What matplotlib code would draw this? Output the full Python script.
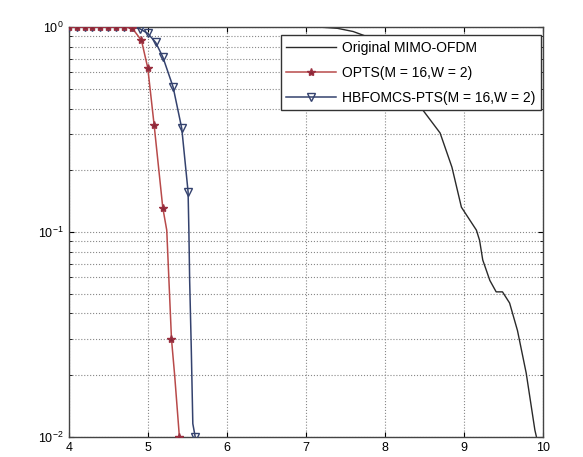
import numpy as np
import matplotlib.pyplot as plt

plt.rcParams['font.family'] = ['Liberation Sans', 'DejaVu Sans']

# Original MIMO-OFDM
x_orig = [4.0, 5.0, 6.0, 7.0, 7.2, 7.4, 7.6, 7.8, 8.0, 8.2, 8.4, 8.48, 8.70, 8.85, 8.97,
          9.16, 9.20, 9.24, 9.33, 9.41, 9.49, 9.58, 9.68, 9.79, 9.90, 9.92]
y_orig = [1.0, 1.0, 1.0, 1.0, 0.997, 0.985, 0.95, 0.89, 0.80, 0.66, 0.47, 0.394, 0.304, 0.207, 0.132,
          0.102, 0.091, 0.073, 0.058, 0.051, 0.051, 0.045, 0.033, 0.0205, 0.0108, 0.01]

# OPTS(M = 16, W = 2)
x_opts = [4.0, 4.1, 4.2, 4.3, 4.4, 4.5, 4.6, 4.7, 4.8, 4.92, 5.0, 5.08, 5.19, 5.24, 5.30, 5.34, 5.40]
y_opts = [1.0, 1.0, 1.0, 1.0, 1.0, 1.0, 1.0, 1.0, 0.99, 0.86, 0.63, 0.333, 0.131, 0.102, 0.030, 0.020, 0.01]
mk_opts = [0, 1, 2, 3, 4, 5, 6, 7, 8, 9, 10, 11, 12, 14, 16]

# HBFOMCS-PTS(M = 16, W = 2)
x_hb = [4.0, 4.1, 4.2, 4.3, 4.4, 4.5, 4.6, 4.7, 4.8, 4.9, 5.0, 5.1, 5.19, 5.32, 5.43, 5.51,
        5.52, 5.53, 5.55, 5.57, 5.60]
y_hb = [1.0, 1.0, 1.0, 1.0, 1.0, 1.0, 1.0, 1.0, 1.0, 0.98, 0.93, 0.84, 0.714, 0.51, 0.32, 0.157,
        0.102, 0.058, 0.0275, 0.0116, 0.01]
mk_hb = [0, 1, 2, 3, 4, 5, 6, 7, 8, 9, 10, 11, 12, 13, 14, 15, 20]

labels = ['Original MIMO-OFDM', 'OPTS(M = 16,W = 2)', 'HBFOMCS-PTS(M = 16,W = 2)']

c_orig = '#2a2a2a'
c_opts = '#b84a4a'
c_hb = '#34426e'

fig = plt.figure(figsize=(5.83, 4.57), dpi=100)
ax = fig.add_axes([0.118, 0.044, 0.813, 0.897])

ax.semilogy(x_orig, y_orig, color=c_orig, lw=1.0)
ax.semilogy(x_hb, y_hb, color=c_hb, lw=1.1, marker='v', markersize=6,
            markerfacecolor='none', markeredgecolor=c_hb, markevery=mk_hb, zorder=3)
ax.semilogy(x_opts, y_opts, color=c_opts, lw=1.1, marker='*', markersize=6,
            markerfacecolor='#8a2838', markeredgecolor='#9a3040', markevery=mk_opts, zorder=4)

# legend handles in original order
h0, = ax.plot([], [], color=c_orig, lw=1.0)
h1, = ax.plot([], [], color=c_opts, lw=1.1, marker='*', markersize=6,
              markerfacecolor='#8a2838', markeredgecolor='#9a3040')
h2, = ax.plot([], [], color=c_hb, lw=1.1, marker='v', markersize=6,
              markerfacecolor='none', markeredgecolor=c_hb)
leg = ax.legend([h0, h1, h2], labels, loc='upper right', bbox_to_anchor=(0.996, 0.98),
                borderaxespad=0, fontsize=10, fancybox=False, framealpha=1,
                edgecolor='#333333', handlelength=3.6, labelspacing=0.8, handletextpad=0.4)
leg.get_frame().set_linewidth(1.0)

ax.set_xlim(4, 10)
ax.set_ylim(1e-2, 1)
ax.set_xticks([4, 5, 6, 7, 8, 9, 10])
ax.grid(True, which='major', linestyle=':', color='#888888', lw=0.8)
ax.grid(True, which='minor', axis='y', linestyle=':', color='#888888', lw=0.8)
ax.tick_params(labelsize=9, direction='in', which='both', top=True, right=True)
for s in ax.spines.values():
    s.set_color('#444444')
    s.set_linewidth(1.0)

plt.savefig('out.png', dpi=100)
